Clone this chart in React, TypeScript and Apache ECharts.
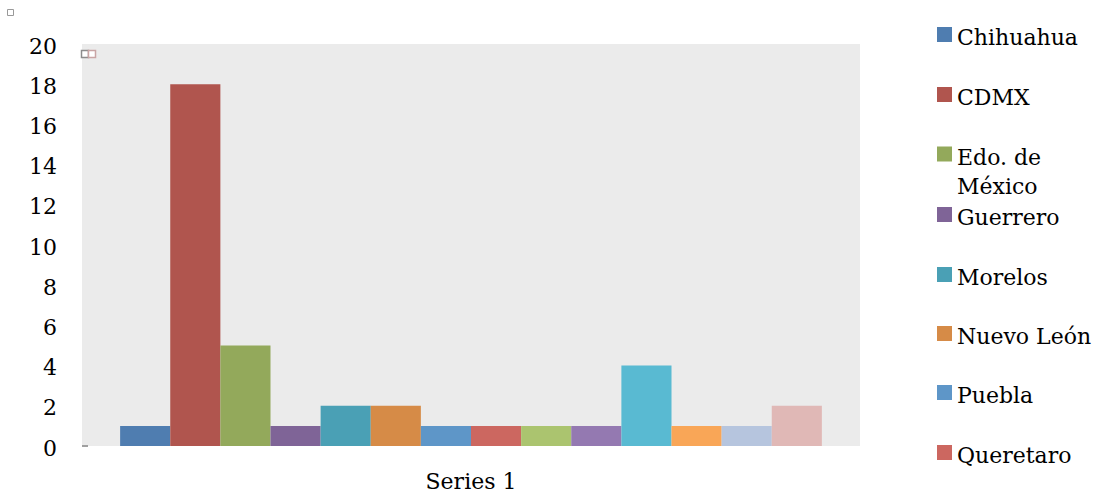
import React, { useEffect, useRef } from "react";
import * as echarts from "echarts";

const categories = ["Series 1"];
const seriesNames = [
  "Chihuahua",
  "CDMX",
  "Edo. de México",
  "Guerrero",
  "Morelos",
  "Nuevo León",
  "Puebla",
  "Queretaro",
  "Quintana Roo",
  "San Luis Potosí",
  "Sonora",
  "Tabasco",
  "Veracruz",
  "Yucatán",
];
const seriesValues = [1, 18, 5, 1, 2, 2, 1, 1, 1, 1, 4, 1, 1, 2];
const seriesColors = [
  "#4F7DB0",
  "#B0554E",
  "#93A95B",
  "#7F6497",
  "#4AA0B5",
  "#D68B47",
  "#5E96C8",
  "#CC6760",
  "#ABC46F",
  "#9479B1",
  "#59BAD2",
  "#F9A657",
  "#B6C5DE",
  "#E0B8B6",
];
const legendNames = seriesNames.slice(0, 8);
const legendIconCenters = [34.5, 94.5, 153.5, 214.5, 274.5, 333.5, 392.5, 452.5];

const FONT = "DejaVu Serif";

const ICON_SINGLE = "path://M0,0L15,0L15,15L0,15ZM15,21";
const ICON_MULTI = "path://M0,0M0,4.5L15,4.5L15,19.5L0,19.5ZM15,60";

export default function App() {
  const ref = useRef<HTMLDivElement>(null);

  useEffect(() => {
    if (!ref.current) return;
    const chart = echarts.init(ref.current, null, { renderer: "svg" });

    const legends = legendNames.map((name, i) => {
      const multi = name === "Edo. de México";
      const c = legendIconCenters[i];
      return {
        show: true,
        data: [name],
        orient: "vertical",
        left: 937,
        top: Math.round(multi ? c - 12 : c - 11.5),
        padding: 0,
        itemWidth: 15,
        itemHeight: multi ? 60 : 21,
        itemGap: 0,
        icon: multi ? ICON_MULTI : ICON_SINGLE,
        selectedMode: false,
        formatter: (n: string) => (n === "Edo. de México" ? "Edo. de\nMéxico" : n),
        textStyle: {
          fontFamily: FONT,
          fontSize: 22,
          color: "#000",
          lineHeight: 29,
        },
      };
    });

    chart.setOption({
      animation: false,
      legend: legends,
      grid: {
        left: 82,
        top: 44,
        right: 1099 - 860,
        bottom: 497 - 446,
        show: true,
        backgroundColor: "#EBEBEB",
        borderWidth: 0,
      },
      xAxis: {
        type: "category",
        data: categories,
        axisLine: { show: false },
        axisTick: { show: false },
        axisLabel: {
          fontFamily: FONT,
          fontSize: 22,
          color: "#000",
          margin: 24,
        },
      },
      yAxis: {
        type: "value",
        min: 0,
        max: 20,
        interval: 2,
        axisLine: { show: false },
        axisTick: { show: false },
        splitLine: { show: false },
        axisLabel: {
          fontFamily: FONT,
          fontSize: 22,
          color: "#000",
          margin: 25,
          verticalAlign: "top",
          padding: [-9, 0, 0, 0],
        },
      },
      series: seriesNames.map((name, i) => ({
        type: "bar",
        name,
        data: [seriesValues[i]],
        itemStyle: { color: seriesColors[i] },
        barGap: "0%",
        barCategoryGap: "9.8%",
      })),
      graphic: [
        {
          type: "rect",
          shape: { x: 7.5, y: 9.5, width: 6, height: 6 },
          style: { fill: "#fff", stroke: "#999", lineWidth: 1 },
        },
        {
          type: "rect",
          shape: { x: 81.5, y: 50.5, width: 7, height: 7 },
          style: { fill: "#fff", stroke: "#8C8C8C", lineWidth: 1.5 },
        },
        {
          type: "rect",
          shape: { x: 88.5, y: 50.5, width: 7, height: 7 },
          style: { fill: "#fff", stroke: "#C9A5A5", lineWidth: 1.5 },
        },
        {
          type: "rect",
          shape: { x: 82, y: 445, width: 6, height: 2 },
          style: { fill: "#A0A0A0" },
        },
      ],
    });

    return () => chart.dispose();
  }, []);

  return (
    <div
      ref={ref}
      style={{ position: "absolute", left: 0, top: 0, width: 1099, height: 497 }}
    />
  );
}
